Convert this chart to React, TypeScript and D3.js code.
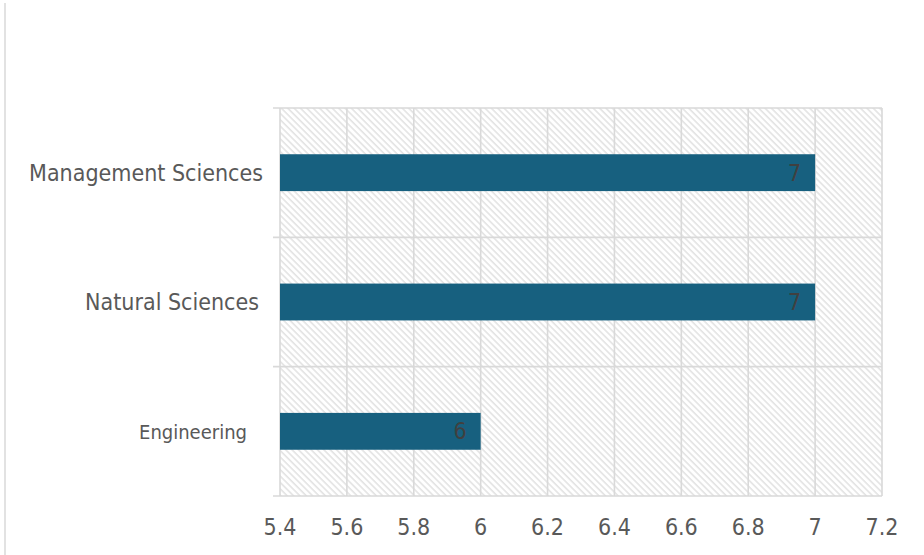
import React, { useEffect, useRef } from 'react';
import * as d3 from 'd3';

const categories = ['Management Sciences', 'Natural Sciences', 'Engineering'];
const values = [7, 7, 6];
const xTicks = [5.4, 5.6, 5.8, 6, 6.2, 6.4, 6.6, 6.8, 7, 7.2];

const W = 924;
const H = 555;
const margin = { top: 108, right: 42, bottom: 59, left: 280 };
const FONT = "'DejaVu Sans Condensed', 'DejaVu Sans', sans-serif";

export default function App() {
  const ref = useRef<SVGSVGElement>(null);

  useEffect(() => {
    const svg = d3.select(ref.current);
    svg.selectAll('*').remove();

    const x = d3.scaleLinear().domain([5.4, 7.2]).range([margin.left, W - margin.right]);
    const y = d3.scaleBand().domain(categories).range([margin.top, H - margin.bottom]).padding(0);

    // hatch fill for the plot area
    const defs = svg.append('defs');
    const pat = defs
      .append('pattern')
      .attr('id', 'hatch')
      .attr('patternUnits', 'userSpaceOnUse')
      .attr('width', 4.5)
      .attr('height', 4.5)
      .attr('patternTransform', 'rotate(-45)');
    pat.append('rect').attr('width', 4.5).attr('height', 4.5).attr('fill', '#fff');
    pat.append('line').attr('x1', 1).attr('y1', 0).attr('x2', 1).attr('y2', 4.5)
      .attr('stroke', '#e3e3e3').attr('stroke-width', 1.6);

    // left border line of the frame
    svg.append('line').attr('x1', 5).attr('x2', 5).attr('y1', 3).attr('y2', H)
      .attr('stroke', '#d9d9d9').attr('stroke-width', 1.5);

    svg.append('rect')
      .attr('x', margin.left).attr('y', margin.top)
      .attr('width', x.range()[1] - margin.left)
      .attr('height', H - margin.bottom - margin.top)
      .attr('fill', 'url(#hatch)');

    // vertical gridlines
    svg.append('g').selectAll('line').data(xTicks).join('line')
      .attr('x1', (d) => x(d)).attr('x2', (d) => x(d))
      .attr('y1', margin.top).attr('y2', H - margin.bottom)
      .attr('stroke', '#d9d9d9').attr('stroke-width', 1.6);

    // category boundary lines
    const bounds = [...categories.map((c) => y(c) as number), H - margin.bottom];
    svg.append('g').selectAll('line').data(bounds).join('line')
      .attr('x1', margin.left - 7).attr('x2', x.range()[1])
      .attr('y1', (d) => d).attr('y2', (d) => d)
      .attr('stroke', '#d9d9d9').attr('stroke-width', 1.6);

    // bars
    const bh = y.bandwidth() * 0.285;
    svg.append('g').selectAll('rect').data(values).join('rect')
      .attr('x', x(5.4))
      .attr('y', (_d, i) => (y(categories[i]) as number) + (y.bandwidth() - bh) / 2)
      .attr('width', (d) => x(d) - x(5.4))
      .attr('height', bh)
      .attr('fill', '#17607F');

    // data labels
    svg.append('g').selectAll('text').data(values).join('text')
      .attr('x', (d) => x(d) - 14)
      .attr('y', (_d, i) => (y(categories[i]) as number) + y.bandwidth() / 2 + 8)
      .attr('text-anchor', 'end')
      .attr('font-family', FONT)
      .attr('font-size', 23)
      .attr('fill', '#404040')
      .text((d) => d);

    // category labels
    svg.append('g').selectAll('text').data(categories).join('text')
      .attr('x', (d) => (d === 'Engineering' ? 247 : d === 'Natural Sciences' ? 259 : 263))
      .attr('y', (d) => (y(d) as number) + y.bandwidth() / 2 + 8)
      .attr('text-anchor', 'end')
      .attr('font-family', FONT)
      .attr('font-size', (d) => (d === 'Engineering' ? 20 : 23))
      .attr('fill', '#595959')
      .text((d) => d);

    // x tick labels
    svg.append('g').selectAll('text').data(xTicks).join('text')
      .attr('x', (d) => x(d))
      .attr('y', 535)
      .attr('text-anchor', 'middle')
      .attr('font-family', FONT)
      .attr('font-size', 23)
      .attr('fill', '#595959')
      .text((d) => d3.format('~g')(d));
  }, []);

  return (
    <svg
      ref={ref}
      width={W}
      height={H}
      style={{ position: 'absolute', left: 0, top: 0, background: '#fff' }}
    />
  );
}
